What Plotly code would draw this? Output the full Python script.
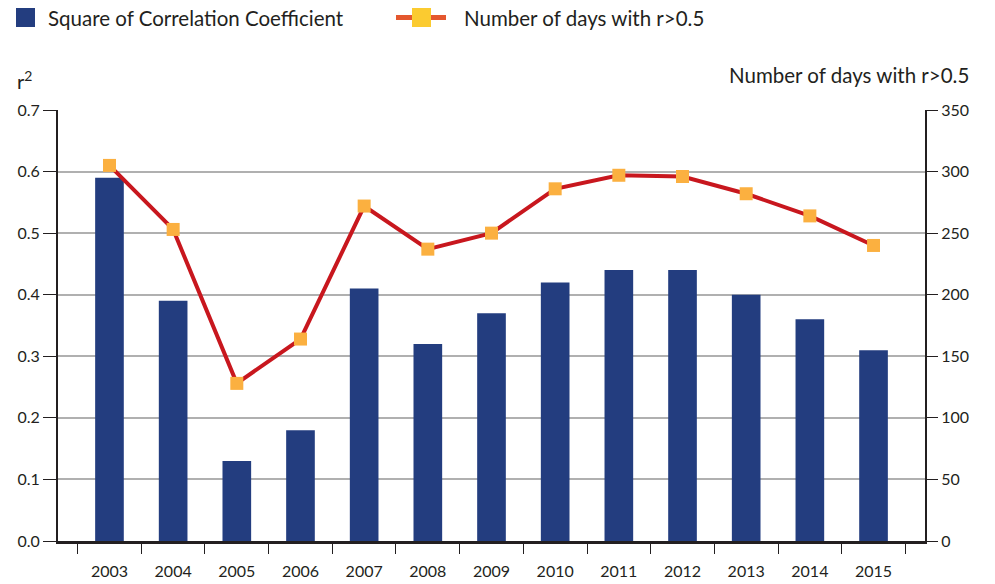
import plotly.graph_objects as go

years = ["2003", "2004", "2005", "2006", "2007", "2008", "2009", "2010", "2011", "2012", "2013", "2014", "2015"]
r_squared = [0.59, 0.39, 0.13, 0.18, 0.41, 0.32, 0.37, 0.42, 0.44, 0.44, 0.40, 0.36, 0.31]
days_r_over_05 = [305, 253, 128, 164, 272, 237, 250, 286, 297, 296, 282, 264, 240]

left_ticks = [0.0, 0.1, 0.2, 0.3, 0.4, 0.5, 0.6, 0.7]
right_ticks = [0, 50, 100, 150, 200, 250, 300, 350]

bar_name = "Square of Correlation Coefficient"
line_name = "Number of days with r>0.5"

FONT = "Lato, Open Sans, sans-serif"
TXT = "#231f20"
BAR_C = "#233d7f"
LINE_C = "#c8171e"
MARK_C = "#fbb040"

W, H = 995, 584
ML, MR, MT, MB = 58, 70, 110, 43
pw = W - ML - MR
ph = H - MT - MB


def px_x(x):
    return (x - ML) / pw


def px_y(y):
    return (H - MB - y) / ph


fig = go.Figure()
fig.add_trace(go.Bar(
    x=years, y=r_squared, name=bar_name,
    marker=dict(color=BAR_C, line=dict(width=0)), yaxis="y",
))
fig.add_trace(go.Scatter(
    x=years, y=days_r_over_05, name=line_name,
    mode="lines+markers", yaxis="y2",
    line=dict(color=LINE_C, width=4),
    marker=dict(symbol="square", size=13, color=MARK_C, line=dict(width=0)),
))

# Manual legend (decoration)
shapes = [
    dict(type="rect", xref="paper", yref="paper", x0=px_x(16), x1=px_x(35), y0=px_y(27), y1=px_y(8),
         fillcolor=BAR_C, line=dict(width=0), layer="above"),
    dict(type="line", xref="paper", yref="paper", x0=px_x(396), x1=px_x(446), y0=px_y(17.5), y1=px_y(17.5),
         line=dict(color="#e4572e", width=5), layer="above"),
    dict(type="rect", xref="paper", yref="paper", x0=px_x(412), x1=px_x(431), y0=px_y(27), y1=px_y(8),
         fillcolor="#fbcb30", line=dict(width=0), layer="above"),
]

fig.update_layout(
    width=W, height=H,
    margin=dict(l=ML, r=MR, t=MT, b=MB, autoexpand=False),
    plot_bgcolor="white", paper_bgcolor="white",
    font=dict(family=FONT, size=16, color=TXT),
    bargap=0.55,
    showlegend=False,
    shapes=shapes,
    xaxis=dict(
        type="category", showgrid=False, showline=True, linecolor="#231f20", linewidth=2.5,
        ticks="outside", tickson="boundaries", ticklen=10, tickcolor="#231f20", tickwidth=1,
        tickfont=dict(size=16, color=TXT), ticklabelstandoff=14, automargin=False,
    ),
    yaxis=dict(
        range=[0, 0.7], tickvals=left_ticks, tickformat=".1f",
        showline=True, linecolor="#231f20", linewidth=2,
        ticks="outside", ticklen=13, tickcolor="#231f20",
        showgrid=True, gridcolor="#b0b0b0", gridwidth=1.5, zeroline=False,
        tickfont=dict(size=16, color=TXT), automargin=False,
    ),
    yaxis2=dict(
        range=[0, 350], tickvals=right_ticks, overlaying="y", side="right",
        showline=True, linecolor="#231f20", linewidth=2,
        ticks="outside", ticklen=11, tickcolor="#231f20",
        showgrid=False, zeroline=False,
        tickfont=dict(size=16, color=TXT), automargin=False,
    ),
    annotations=[
        dict(text=bar_name, x=px_x(46), y=px_y(18), xref="paper", yref="paper",
             xanchor="left", yanchor="middle", showarrow=False, font=dict(size=20.5, color=TXT)),
        dict(text=line_name, x=px_x(462), y=px_y(18), xref="paper", yref="paper",
             xanchor="left", yanchor="middle", showarrow=False, font=dict(size=20.5, color=TXT)),
        dict(text="r<sup>2</sup>", x=px_x(15), y=px_y(80), xref="paper", yref="paper",
             xanchor="left", yanchor="middle", showarrow=False, font=dict(size=20, color=TXT)),
        dict(text=line_name, x=px_x(971), y=px_y(75),
             xref="paper", yref="paper", xanchor="right", yanchor="middle",
             showarrow=False, font=dict(size=20.5, color=TXT)),
    ],
)

fig.write_html("out.html", config={"displayModeBar": False},
               post_script="document.body.style.margin='0';document.body.style.padding='0';")
